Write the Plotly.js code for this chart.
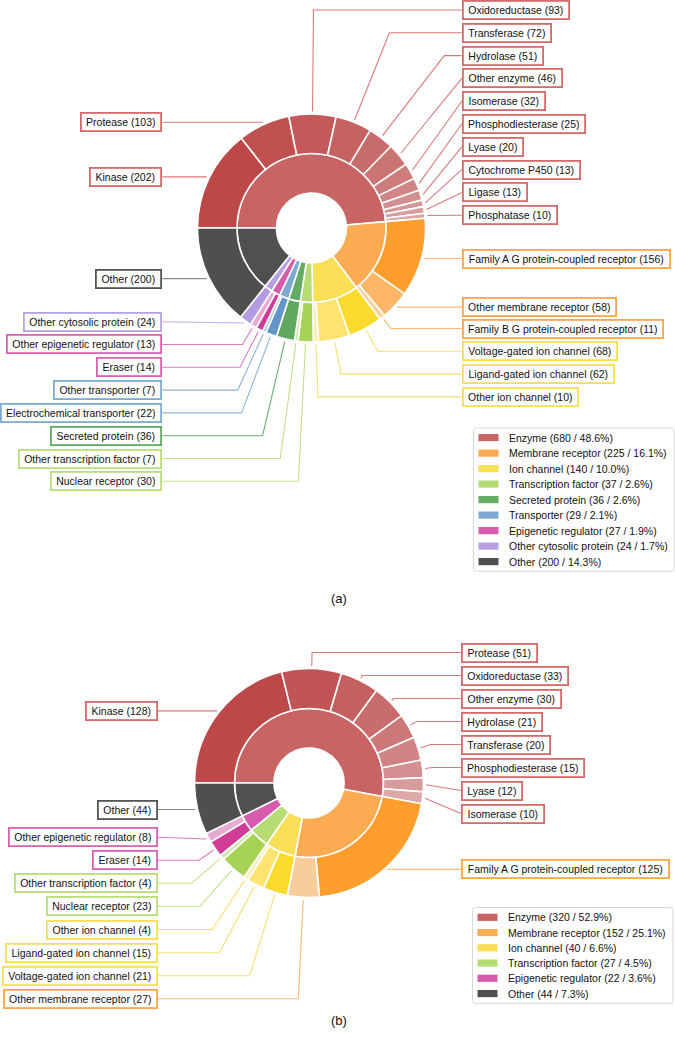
<!DOCTYPE html>
<html><head><meta charset="utf-8">
<script src="https://cdn.plot.ly/plotly-3.0.1.min.js"></script>
<style>html,body{margin:0;padding:0;background:#fff}#chart{width:675px;height:1038px}</style>
</head><body><div id="chart"></div>
<script>
// ---------------- DATA ----------------
// Chart (a)
const aCategories = ['Enzyme','Membrane receptor','Ion channel','Transcription factor','Secreted protein','Transporter','Epigenetic regulator','Other cytosolic protein','Other'];
const aCategoryCounts = [680,225,140,37,36,29,27,24,200];
const aSubtypes = ['Kinase','Protease','Oxidoreductase','Transferase','Hydrolase','Other enzyme','Isomerase','Phosphodiesterase','Lyase','Cytochrome P450','Ligase','Phosphatase',
  'Family A G protein-coupled receptor','Other membrane receptor','Family B G protein-coupled receptor',
  'Voltage-gated ion channel','Ligand-gated ion channel','Other ion channel',
  'Nuclear receptor','Other transcription factor','Secreted protein',
  'Electrochemical transporter','Other transporter','Eraser','Other epigenetic regulator','Other cytosolic protein','Other'];
const aSubtypeCounts = [202,103,93,72,51,46,32,25,20,13,13,10, 156,58,11, 68,62,10, 30,7, 36, 22,7, 14,13, 24, 200];
const aSubtypeParent = ['Enzyme','Enzyme','Enzyme','Enzyme','Enzyme','Enzyme','Enzyme','Enzyme','Enzyme','Enzyme','Enzyme','Enzyme',
  'Membrane receptor','Membrane receptor','Membrane receptor','Ion channel','Ion channel','Ion channel',
  'Transcription factor','Transcription factor','Secreted protein','Transporter','Transporter',
  'Epigenetic regulator','Epigenetic regulator','Other cytosolic protein','Other'];

// Chart (b)
const bCategories = ['Enzyme','Membrane receptor','Ion channel','Transcription factor','Epigenetic regulator','Other'];
const bCategoryCounts = [320,152,40,27,22,44];
const bSubtypes = ['Kinase','Protease','Oxidoreductase','Other enzyme','Hydrolase','Transferase','Phosphodiesterase','Lyase','Isomerase',
  'Family A G protein-coupled receptor','Other membrane receptor',
  'Voltage-gated ion channel','Ligand-gated ion channel','Other ion channel',
  'Nuclear receptor','Other transcription factor','Eraser','Other epigenetic regulator','Other'];
const bSubtypeCounts = [128,51,33,30,21,20,15,12,10, 125,27, 21,15,4, 23,4, 14,8, 44];
const bSubtypeParent = ['Enzyme','Enzyme','Enzyme','Enzyme','Enzyme','Enzyme','Enzyme','Enzyme','Enzyme',
  'Membrane receptor','Membrane receptor','Ion channel','Ion channel','Ion channel',
  'Transcription factor','Transcription factor','Epigenetic regulator','Epigenetic regulator','Other'];

// ---------------- LAYOUT POSITIONS (pixels) ----------------
const W = 675, H = 1038;
const aLabelY = [null,null,10,32.8,55.6,78.4,101.2,124,146.8,169.6,192.4,215.2, null,null,328.5, 351.3,374.1,396.9, 481.3,458.5, 435.7, 412.9,390.1, 367.3,344.5, 321.7, null];
const bLabelY = [null,652.5,675.5,698.5,721.5,744.5,767.5,790.5,813.5, null,998.7, 975.7,952.7,929.5, 906.3,883.3, 860.3,837.3, null];

// ---------------- STYLES ----------------
const catColor = {'Enzyme':'#c86464','Membrane receptor':'#fbab52','Ion channel':'#f9df55','Transcription factor':'#b5dd74',
  'Secreted protein':'#64ac64','Transporter':'#7eaad2','Epigenetic regulator':'#d85cae','Other cytosolic protein':'#b5a0e4','Other':'#505050'};
const borderColor = {'Enzyme':'#d46a6a','Membrane receptor':'#fba544','Ion channel':'#f8de52','Transcription factor':'#b8de7a',
  'Secreted protein':'#62ab62','Transporter':'#7eaad4','Epigenetic regulator':'#da62b2','Other cytosolic protein':'#b7a2e6','Other':'#555555'};
const lineColor = {'Enzyme':'#d97a7a','Membrane receptor':'#fcbb70','Ion channel':'#f8e070','Transcription factor':'#c0e18a',
  'Secreted protein':'#6cb06c','Transporter':'#8cb4d8','Epigenetic regulator':'#de78be','Other cytosolic protein':'#c0aee8','Other':'#888888'};
// outer ring shades per group: [dark, light]
const shadeRange = {'Enzyme':['#bd4848','#dca8a8'],'Membrane receptor':['#ff9e2c','#fbd0a0'],'Ion channel':['#fddb2c','#fcedb4'],
  'Transcription factor':['#a6d356','#cfe8a8'],'Secreted protein':['#5fa85f','#5fa85f'],'Transporter':['#6396c8','#b1cde6'],
  'Epigenetic regulator':['#d03c98','#e8aad0'],'Other cytosolic protein':['#b29be2','#b29be2'],'Other':['#4f4f4f','#4f4f4f']};

const FONT = 'Liberation Sans, Arial, Helvetica, sans-serif';
const FS = 10.5;

function hex2rgb(h){h=h.replace('#','');return [0,2,4].map(i=>parseInt(h.substr(i,2),16));}
function mix(c1,c2,t){const a=hex2rgb(c1),b=hex2rgb(c2);return 'rgb('+a.map((v,i)=>Math.round(v+(b[i]-v)*t)).join(',')+')';}
function outerColors(parents, overrides){
  const cols=[];
  for(let i=0;i<parents.length;i++){
    const p=parents[i];
    const idxs=parents.map((q,j)=>q===p?j:-1).filter(j=>j>=0);
    const k=idxs.indexOf(i), n=idxs.length;
    const r=shadeRange[p];
    cols.push(n<=1?r[0]:mix(r[0],r[1],k/(n-1)));
  }
  if(overrides) Object.keys(overrides).forEach(k=>{cols[k]=overrides[k];});
  return cols;
}

const canvas=document.createElement('canvas');const ctx=canvas.getContext('2d');
ctx.font = FS+'px "Liberation Sans", Arial, sans-serif';
function tw(s){const m=ctx.measureText(s).width;return m>0?m:s.length*5.6;}

const px2x = x => x/W, px2y = y => 1 - y/H;

const traces=[], shapes=[], annotations=[];

function buildChart(cfg){
  const {cats,catCounts,subs,subCounts,parents,labelY,cx,cy,r0,r1,r2,leftX,rightX,legend,caption,shadeOverrides} = cfg;
  const dom = r => ({x:[(cx-r)/W,(cx+r)/W], y:[1-(cy+r)/H, 1-(cy-r)/H]});
  traces.push({type:'pie', values:catCounts, labels:cats, sort:false, direction:'clockwise', rotation:-90,
    hole:r0/r1, domain:dom(r1), textinfo:'none', textposition:'none', showlegend:false,
    marker:{colors:cats.map(c=>catColor[c]), line:{color:'#ffffff', width:1.6}}, hoverinfo:'label+value'});
  traces.push({type:'pie', values:subCounts, labels:subs, sort:false, direction:'clockwise', rotation:-90,
    hole:r1/r2, domain:dom(r2), textinfo:'none', textposition:'none', showlegend:false,
    marker:{colors:outerColors(parents, shadeOverrides), line:{color:'#ffffff', width:1.6}}, hoverinfo:'label+value'});

  const total = subCounts.reduce((s,v)=>s+v,0);
  const Re = r2 + 2.5;
  let cum=0;
  subs.forEach((name,i)=>{
    const v=subCounts[i];
    const mid=(cum+v/2)/total; cum+=v;
    const a=(-90+mid*360)*Math.PI/180;
    const sx=Math.sin(a), sy=-Math.cos(a);
    const px=cx+Re*sx, py=cy+Re*sy;
    const right = sx>0;
    const ly = (labelY[i]===null)? py : labelY[i];
    const bx = right? rightX : leftX;
    let path;
    let elbow=null;
    if(Math.abs(ly-py)>0.6 && Math.abs(sy)>1e-6){
      const k=(ly-cy)/sy;
      const ex=cx+k*sx;
      const ok = k>Re && (right ? ex < bx-4 : ex > bx+4);
      if(ok) elbow=[ex,ly];
    }
    if(elbow) path=`M${px2x(px)},${px2y(py)} L${px2x(elbow[0])},${px2y(elbow[1])} L${px2x(bx)},${px2y(ly)}`;
    else path=`M${px2x(px)},${px2y(py)} L${px2x(bx)},${px2y(ly)}`;
    const p=parents[i];
    shapes.push({type:'path', xref:'paper', yref:'paper', layer:'below', path:path,
      line:{color:lineColor[p], width:1.1}});
    const text=`${name} (${v})`;
    annotations.push({xref:'paper', yref:'paper', x:px2x(bx), y:px2y(ly), xanchor:right?'left':'right', yanchor:'middle',
      text:text, showarrow:false, font:{family:FONT, size:FS, color:'#111111'},
      bgcolor:'#ffffff', bordercolor:borderColor[p], borderwidth:1.8, borderpad:0.5,
      width:Math.round(tw(text)+8), height:15.5, align:'center'});
  });

  // legend
  const catTotal = catCounts.reduce((s,v)=>s+v,0);
  const L=legend;
  const y1 = L.top + 2*L.pad + (cats.length-1)*L.step;
  const rr=3;
  shapes.push({type:'path', xref:'paper', yref:'paper', layer:'below',
    path:`M${px2x(L.x0+rr)},${px2y(L.top)} L${px2x(L.x1-rr)},${px2y(L.top)} Q${px2x(L.x1)},${px2y(L.top)} ${px2x(L.x1)},${px2y(L.top+rr)} L${px2x(L.x1)},${px2y(y1-rr)} Q${px2x(L.x1)},${px2y(y1)} ${px2x(L.x1-rr)},${px2y(y1)} L${px2x(L.x0+rr)},${px2y(y1)} Q${px2x(L.x0)},${px2y(y1)} ${px2x(L.x0)},${px2y(y1-rr)} L${px2x(L.x0)},${px2y(L.top+rr)} Q${px2x(L.x0)},${px2y(L.top)} ${px2x(L.x0+rr)},${px2y(L.top)} Z`,
    line:{color:'#d2d2d2', width:0.9}, fillcolor:'rgba(255,255,255,0.9)'});
  cats.forEach((c,i)=>{
    const y = L.top + L.pad + i*L.step;
    shapes.push({type:'rect', xref:'paper', yref:'paper', x0:px2x(L.x0+5), x1:px2x(L.x0+25), y0:px2y(y-3.6), y1:px2y(y+3.6),
      fillcolor:catColor[c], line:{width:0}});
    const pct=(100*catCounts[i]/catTotal).toFixed(1);
    annotations.push({xref:'paper', yref:'paper', x:px2x(L.x0+33), y:px2y(y), xanchor:'left', yanchor:'middle',
      text:`${c} (${catCounts[i]} / ${pct}%)`, showarrow:false, font:{family:FONT, size:FS, color:'#111111'}});
  });
  annotations.push({xref:'paper', yref:'paper', x:px2x(caption.x), y:px2y(caption.y), xanchor:'center', yanchor:'middle',
    text:caption.text, showarrow:false, font:{family:FONT, size:13, color:'#111111'}});
}

buildChart({cats:aCategories, catCounts:aCategoryCounts, subs:aSubtypes, subCounts:aSubtypeCounts, parents:aSubtypeParent,
  labelY:aLabelY, cx:311.5, cy:228, r0:35, r1:74.5, r2:114, leftX:162.3, rightX:461.8,
  legend:{x0:473.5, x1:674, top:428, pad:9.6, step:15.5}, caption:{text:'(a)', x:339, y:598}});
buildChart({cats:bCategories, catCounts:bCategoryCounts, subs:bSubtypes, subCounts:bSubtypeCounts, parents:bSubtypeParent,
  labelY:bLabelY, cx:309, cy:783, r0:35, r1:74.5, r2:114.5, leftX:158, rightX:461,
  legend:{x0:472.5, x1:673, top:907.5, pad:9.8, step:15.25}, caption:{text:'(b)', x:339, y:1020},
  shadeOverrides:{10:'#f8cd9a'}});

const layout = {width:W, height:H, margin:{l:0,r:0,t:0,b:0}, paper_bgcolor:'#ffffff', plot_bgcolor:'#ffffff',
  showlegend:false, shapes:shapes, annotations:annotations, font:{family:FONT}};
Plotly.newPlot('chart', traces, layout, {staticPlot:true, displayModeBar:false});
</script>
</body></html>
